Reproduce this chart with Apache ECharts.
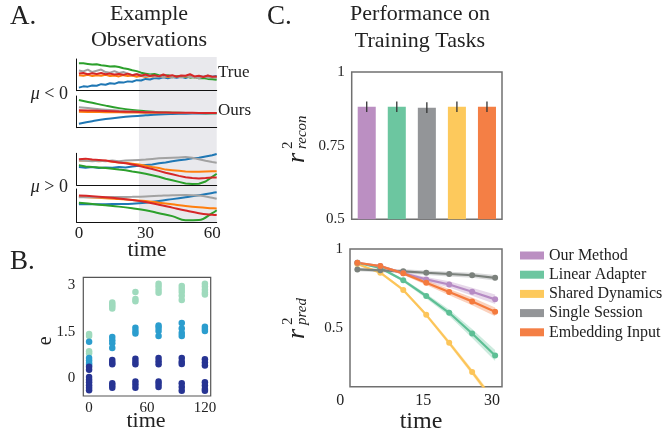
<!DOCTYPE html>
<html><head><meta charset="utf-8">
<script src="https://cdn.jsdelivr.net/npm/echarts@6/dist/echarts.min.js"></script>
<style>html,body{margin:0;padding:0;background:#fff}#c{width:668px;height:436px}</style>
</head><body><div id="c"></div><script>
const SERIF = '"Liberation Serif", "Times New Roman", serif';

// ---------- Panel A: example observations ----------
const tNoisy = [0,2,4,6,8,10,12,14,16,18,20,22,24,26,28,30,32,34,36,38,40,42,44,46,48,50,52,54,56,58,60,62];
const tMid   = [0,3,6,9,12,15,18,21,24,27,30,33,36,39,42,45,48,51,54,57,60,62];
const tSmooth = [0,6,12,18,24,30,36,42,48,54,60,62];
const shadeStart = 27, shadeEnd = 62;
const aTicks = [0,30,60];

// mu<0, True
const a1Blue   = [10,14,13,17,16,21,19,24,22,27,26,30,29,34,33,38,36,41,39,43,40,44,42,45,41,46,43,47,44,48,45,47];
const a1Orange = [50,48,51,47,50,48,51,47,49,46,50,47,49,45,48,44,47,45,48,44,46,43,47,45,44,46,43,45,42,44,43,44];
const a1Green  = [88,88,86,84,85,82,80,78,79,76,72,70,66,63,58,55,52,54,50,48,50,46,47,44,46,42,44,40,41,38,37,35];
const a1Gray   = [65,62,68,60,64,68,60,58,63,57,60,55,50,54,50,46,50,44,47,43,48,44,46,42,47,43,45,40,46,42,44,41];
const a1Red    = [55,57,53,56,54,57,53,55,52,54,51,55,50,53,48,52,47,50,46,52,47,50,45,49,48,53,46,48,44,49,45,46];
// mu<0, Ours
const a2Blue   = [13,21,28,33,37,40,42.5,44,45,45.8,46.3,46.5];
const a2Orange = [51,50.5,50,49.5,49,48.5,48,47.8,47.6,47.4,47.3,47.2];
const a2Green  = [89,80,71,63,57,53,50,48.5,47.5,47,46.8,46.7];
const a2Gray   = [66,62,58,55,52,50,49,48,47.5,47,47,47];
const a2Red    = [56,55,53.5,52,51,50,49,48.5,48,47.5,47.3,47.2];
// mu>0, True
const a3Blue   = [58,56,58,55,57,56,58,57,60,62,65,66,70,73,77,80,82,86,88,92,96,100];
const a3Orange = [79,80,78,77,78,75,73,72,69,66,62,58,55,50,48,46,44,43,43,44,45,45];
const a3Green  = [64,60,58,57,55,53,50,48,44,41,37,32,27,21,16,11,6,4,5,12,27,37];
const a3Gray   = [79,78,77,78,77,79,77,79,80,81,82,84,86,87,88,89,90,88,83,78,74,72];
const a3Red    = [83,85,82,81,79,76,73,70,66,62,57,52,46,40,35,30,26,23,22,23,25,25];
// mu>0, Ours
const a4Blue   = [55,55,55.5,56,57,60,65,71,77,83,90,92];
const a4Orange = [78,76,74,71,68,65,60,55,50,46,43,42];
const a4Green  = [60,56,52,48,43,37,28,19,6,7,28,37];
const a4Gray   = [77,77,77,77.5,78,79,81,83,84,82,75,72];
const a4Red    = [82,80,77,73,68,62,54,45,36,28,23,22];

// ---------- Panel B: embedding scatter ----------
const bTimes = [0,24,48,72,96,120];
const bTicksX = [0,60,120];
const bTicksY = [0,1.5,3];
const eLight = [[1.42,1.36,0.86,0.80],[2.44,2.38,2.32,2.25],[2.78,2.56,2.48],[3.05,2.96,2.86,2.76],[2.98,2.88,2.78,2.66,2.52],[3.05,2.96,2.86,2.76,2.70]];
const eMid   = [[1.17,0.64,0.56,0.48,0.42],[1.32,1.22,1.12,0.97],[1.62,1.52,1.44],[1.70,1.62,1.52,1.36],[1.78,1.60,1.45,1.36],[1.66,1.58,1.52]];
const eDark  = [[0.36,0.26,0.03,-0.06,-0.14,-0.24,-0.32,-0.40],[0.58,0.50,0.44,-0.18,-0.25,-0.32],[0.62,0.52,0.44,-0.12,-0.22,-0.32],[0.64,0.54,0.44,-0.12,-0.20,-0.30],[0.64,0.52,0.45,-0.18,-0.30,-0.42],[0.60,0.50,0.40,-0.14,-0.25,-0.36,-0.42]];

// ---------- Panel C ----------
const methods = ['Our Method','Linear Adapter','Shared Dynamics','Single Session','Embedding Input'];
const methodColors = ['#bb8fc2','#6cc6a0','#fdc95c','#939598','#f47f45'];
const lineColors   = ['#b68bc4','#5dbf95','#fcc55a','#7b817c','#f47a3d'];
const barOrder = ['Our Method','Linear Adapter','Single Session','Shared Dynamics','Embedding Input'];
const reconMean = [0.882,0.882,0.879,0.882,0.882];
const reconErr  = [0.018,0.018,0.018,0.018,0.018];

const predT = [0,5,10,15,20,25,30];
const predOur    = [0.913,0.892,0.846,0.808,0.776,0.730,0.682];
const predLinear = [0.913,0.880,0.802,0.703,0.597,0.466,0.327];
const predShared = [0.905,0.850,0.741,0.584,0.407,0.223,0.030];
const predSingle = [0.871,0.865,0.859,0.850,0.842,0.834,0.818];
const predEmbed  = [0.913,0.892,0.846,0.787,0.728,0.669,0.603];
const bandOur    = [0.004,0.006,0.010,0.015,0.020,0.025,0.030];
const bandLinear = [0.004,0.006,0.010,0.015,0.020,0.028,0.035];
const bandShared = [0.005,0.008,0.010,0.012,0.015,0.018,0.020];
const bandSingle = [0.012,0.012,0.013,0.014,0.015,0.016,0.017];
const bandEmbed  = [0.004,0.006,0.010,0.015,0.020,0.024,0.028];

// ---------- build ----------
const zip = (xs, ys) => xs.map((x, i) => [x, ys[i]]);
const tab = {blue:'#1f77b4', orange:'#ff7f0e', green:'#2ca02c', gray:'#a2a2a2', red:'#d62728'};

const grids = [
  {left:76.7, top:57, width:140, height:165.3},
  {left:76.7, top:59, width:140, height:31.7},
  {left:76.7, top:96, width:140, height:31.7},
  {left:76.7, top:153.3, width:140, height:32},
  {left:76.7, top:189, width:140, height:33.3},
  {left:83.3, top:277.3, width:127.4, height:118.7, show:true, borderColor:'#555', borderWidth:1.2},
  {left:351.7, top:72, width:150.3, height:147.3, show:true, borderColor:'#707070', borderWidth:1.5},
  {left:350, top:249, width:152, height:137.7, show:true, borderColor:'#707070', borderWidth:1.5}
];

const noLine = {show:false};
const xAxes = [], yAxes = [];
// shade grid
xAxes.push({gridIndex:0, type:'value', min:-1, max:62, show:false});
yAxes.push({gridIndex:0, type:'value', min:0, max:1, show:false});
for (let k = 1; k <= 4; k++) {
  xAxes.push({gridIndex:k, type:'value', min:-1, max:62, z:6,
    axisLine:{show:true, onZero:false, lineStyle:{color:'#111', width:1}},
    axisTick:{show:false}, splitLine:{show:false},
    axisLabel:{show:k === 4, customValues:aTicks, margin:3, color:'#222', fontFamily:SERIF, fontSize:17}});
  yAxes.push({gridIndex:k, type:'value', min:0, max:102, z:6,
    axisLine:{show:true, onZero:false, lineStyle:{color:'#111', width:1}},
    axisTick:{show:false}, splitLine:{show:false}, axisLabel:{show:false}});
}
// B
xAxes.push({gridIndex:5, type:'value', min:-6, max:126,
  axisLine:noLine, axisTick:{show:false}, splitLine:{show:false},
  axisLabel:{customValues:bTicksX, margin:5, color:'#222', fontFamily:SERIF, fontSize:15}});
yAxes.push({gridIndex:5, type:'value', min:-0.59, max:3.26,
  axisLine:noLine, axisTick:{show:false}, splitLine:{show:false},
  axisLabel:{customValues:bTicksY, margin:8, color:'#222', fontFamily:SERIF, fontSize:15}});
// C1
xAxes.push({gridIndex:6, type:'category', data:barOrder, axisLine:noLine, axisTick:{show:false}, axisLabel:{show:false}, splitLine:{show:false}});
yAxes.push({gridIndex:6, type:'value', min:0.5, max:1, interval:0.25,
  axisLine:noLine, axisTick:{show:false}, splitLine:{show:false},
  axisLabel:{margin:7, color:'#222', fontFamily:SERIF, fontSize:15, formatter:v => String(v)}});
// C2
xAxes.push({gridIndex:7, type:'value', min:-1.6, max:31.5,
  axisLine:noLine, axisTick:{show:false}, splitLine:{show:false},
  axisLabel:{customValues:[0,15,30], margin:6, color:'#222', fontFamily:SERIF, fontSize:16,
    formatter:v => v === 0 ? '{l|0}' : '{m|' + v + '}',
    rich:{l:{padding:[0,34,0,0], fontFamily:SERIF, fontSize:16, color:'#222'}, m:{padding:[0,6,0,0], fontFamily:SERIF, fontSize:16, color:'#222'}}}});
yAxes.push({gridIndex:7, type:'value', min:0.13, max:1,
  axisLine:noLine, axisTick:{show:false}, splitLine:{show:false},
  axisLabel:{customValues:[0.5,1], margin:7, color:'#222', fontFamily:SERIF, fontSize:15}});

const series = [];
// shaded test window
series.push({type:'line', xAxisIndex:0, yAxisIndex:0, data:[[shadeStart,0]], symbol:'none', lineStyle:{opacity:0}, silent:true, z:0,
  markArea:{silent:true, itemStyle:{color:'#e9e9ed'}, data:[[{xAxis:shadeStart},{xAxis:shadeEnd}]]}});
const aSets = [
  [1, tNoisy, [a1Blue,a1Orange,a1Green,a1Gray,a1Red], false],
  [2, tSmooth, [a2Blue,a2Orange,a2Green,a2Gray,a2Red], true],
  [3, tMid, [a3Blue,a3Orange,a3Green,a3Gray,a3Red], false],
  [4, tSmooth, [a4Blue,a4Orange,a4Green,a4Gray,a4Red], true]
];
const aCols = [tab.blue, tab.orange, tab.green, tab.gray, tab.red];
aSets.forEach(([k, ts, arrs, sm]) => {
  arrs.forEach((vals, j) => {
    series.push({type:'line', xAxisIndex:k, yAxisIndex:k, data:zip(ts, vals), symbol:'none', smooth:sm ? 0.4 : false,
      silent:true, z:3, lineStyle:{width:2, color:aCols[j]}, itemStyle:{color:aCols[j]}});
  });
});
// B scatter
const bSet = [[eLight,'#9fdabd'],[eMid,'#2b9dce'],[eDark,'#273493']];
bSet.forEach(([arr, col]) => {
  const pts = [];
  arr.forEach((col2, i) => col2.forEach(v => pts.push([bTimes[i], v])));
  series.push({type:'scatter', xAxisIndex:5, yAxisIndex:5, data:pts, symbolSize:6.5, itemStyle:{color:col, opacity:1}, silent:true, z:3});
});
// C1 bars
const colorOf = {}; methods.forEach((m, i) => colorOf[m] = methodColors[i]);
series.push({type:'bar', xAxisIndex:6, yAxisIndex:6, barWidth:'60%', silent:true,
  data:barOrder.map((n, i) => ({value:reconMean[i], itemStyle:{color:colorOf[n]}}))});
series.push({type:'custom', xAxisIndex:6, yAxisIndex:6, silent:true, z:5,
  data:barOrder.map((n, i) => [i, reconMean[i], reconErr[i]]),
  renderItem:(p, api) => {
    const i = api.value(0), m = api.value(1), e = api.value(2);
    const a = api.coord([i, m + e]), b = api.coord([i, m - e]);
    return {type:'line', shape:{x1:a[0], y1:a[1], x2:b[0], y2:b[1]}, style:{stroke:'#333', lineWidth:1.3}};
  }});
// C2 bands + lines
const predSets = {'Our Method':[predOur,bandOur], 'Linear Adapter':[predLinear,bandLinear], 'Shared Dynamics':[predShared,bandShared], 'Single Session':[predSingle,bandSingle], 'Embedding Input':[predEmbed,bandEmbed]};
const drawOrder = ['Shared Dynamics','Linear Adapter','Single Session','Our Method','Embedding Input'];
drawOrder.forEach(name => {
  const [mean, band] = predSets[name];
  const col = methodColors[methods.indexOf(name)];
  series.push({type:'custom', xAxisIndex:7, yAxisIndex:7, silent:true, z:1, data:[[0, 0.5]],
    renderItem:(p, api) => {
      const up = predT.map((t, i) => api.coord([t, mean[i] + band[i]]));
      const lo = predT.map((t, i) => api.coord([t, mean[i] - band[i]])).reverse();
      const cs = p.coordSys;
      return {type:'polygon', shape:{points:up.concat(lo)}, style:{fill:col, opacity:0.35},
        clipPath:{type:'rect', shape:{x:cs.x, y:cs.y, width:cs.width, height:cs.height}}};
    }});
});
drawOrder.forEach(name => {
  const [mean] = predSets[name];
  const lc = lineColors[methods.indexOf(name)];
  series.push({type:'line', name, xAxisIndex:7, yAxisIndex:7, data:zip(predT, mean), symbol:'circle', symbolSize:6,
    showSymbol:true, clip:true, silent:true, z:3, lineStyle:{width:2.2, color:lc}, itemStyle:{color:lc}});
});

// text helpers
const txt = (x, y, text, font, align, va, extra) => ({type:'text', x, y, silent:true,
  style:Object.assign({text, font, fill:'#222', align:align || 'center', verticalAlign:va || 'middle'}, extra || {})});
const f = (s, it) => (it ? 'italic ' : '') + s + 'px ' + SERIF;

const graphic = [
  txt(10, 17, 'A.', f(27), 'left'),
  txt(10, 262, 'B.', f(27), 'left'),
  txt(267, 17, 'C.', f(27), 'left'),
  txt(149, 14, 'Example', f(22)),
  txt(149, 40, 'Observations', f(22)),
  txt(420, 14.5, 'Performance on', f(22)),
  txt(420, 41, 'Training Tasks', f(22)),
  txt(218, 73, 'True', f(17), 'left'),
  txt(218, 111, 'Ours', f(17), 'left'),
  txt(68, 94, '{i|μ} < 0', f(18), 'right', 'middle', {rich:{i:{font:f(18, true), fill:'#222'}}}),
  txt(68, 187, '{i|μ} > 0', f(18), 'right', 'middle', {rich:{i:{font:f(18, true), fill:'#222'}}}),
  txt(147, 250, 'time', f(22)),
  txt(146, 421.5, 'time', f(22)),
  txt(421, 422, 'time', f(24)),
  {type:'group', x:45.8, y:340.8, rotation:Math.PI/2, children:[txt(0, 0, 'e', f(20))]},
  {type:'group', x:297, y:158, rotation:Math.PI/2, children:[
    txt(0, 0, 'r', f(26, true)),
    txt(9, -9, '2', f(15), 'left'),
    txt(9, 5, 'recon', f(15, true), 'left')]},
  {type:'group', x:297, y:334, rotation:Math.PI/2, children:[
    txt(0, 0, 'r', f(26, true)),
    txt(9, -9, '2', f(15), 'left'),
    txt(9, 5, 'pred', f(15, true), 'left')]}
];

const chart = echarts.init(document.getElementById('c'), null, {renderer:'canvas', width:668, height:436});
chart.setOption({
  animation:false,
  backgroundColor:'#fff',
  grid:grids, xAxis:xAxes, yAxis:yAxes, series,
  legend:{orient:'vertical', left:520, top:247.5, padding:0, itemWidth:24, itemHeight:8, itemGap:3.2, icon:'rect',
    selectedMode:false,
    textStyle:{fontFamily:SERIF, fontSize:16, color:'#222'},
    data:methods.map((m, i) => ({name:m, icon:'rect', itemStyle:{color:methodColors[i]}}))},
  graphic
});
</script></body></html>
